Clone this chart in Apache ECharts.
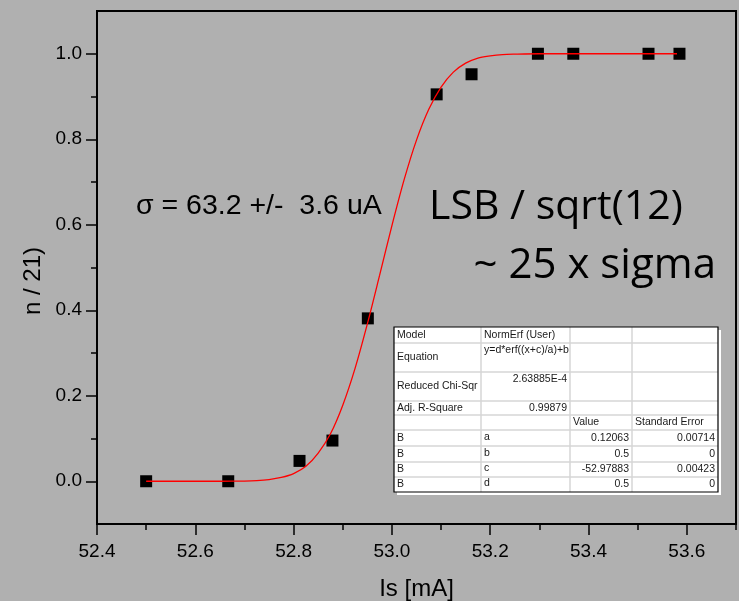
<!DOCTYPE html>
<html>
<head>
<meta charset="utf-8">
<script src="https://cdn.jsdelivr.net/npm/echarts@6/dist/echarts.min.js"></script>
<style>
html,body{margin:0;padding:0;background:#b0b0b0;}
#c{width:739px;height:601px;}
</style>
</head>
<body>
<div id="c"></div>
<script>
// measured points: current Is [mA] vs fraction n/21
var dataX = [52.5, 52.667, 52.812, 52.879, 52.951, 53.091, 53.162, 53.297, 53.369, 53.522, 53.585];
var dataY = [0.0, 0.0, 0.0476, 0.0952, 0.381, 0.905, 0.952, 1.0, 1.0, 1.0, 1.0];

// fitted (NormErf) curve
var fitX = [52.5, 52.55, 52.6, 52.65, 52.7, 52.725, 52.75, 52.775, 52.8, 52.825, 52.85, 52.875, 52.9, 52.925, 52.95, 52.975, 53.0, 53.025, 53.05, 53.075, 53.1, 53.125, 53.15, 53.175, 53.2, 53.225, 53.25, 53.3, 53.35, 53.4, 53.45, 53.5, 53.55, 53.58];
var fitY = [0.0, 0.0, 0.0, 0.0, 0.0005, 0.0015, 0.004, 0.009, 0.018, 0.035, 0.066, 0.111, 0.178, 0.264, 0.368, 0.482, 0.598, 0.706, 0.798, 0.870, 0.922, 0.957, 0.978, 0.990, 0.995, 0.998, 0.999, 1.0, 1.0, 1.0, 1.0, 1.0, 1.0, 1.0];

// axis ticks
var xMajorTicks = [52.4, 52.6, 52.8, 53.0, 53.2, 53.4, 53.6];
var xMinorTicks = [52.5, 52.7, 52.9, 53.1, 53.3, 53.5, 53.7];
var yMajorTicks = [0.0, 0.2, 0.4, 0.6, 0.8, 1.0];
var yMinorTicks = [0.1, 0.3, 0.5, 0.7, 0.9];

var xTitle = 'Is [mA]';
var yTitle = 'n / 21)';
var note1 = '\u03c3 = 63.2 +/-  3.6 uA';
var note2 = 'LSB / sqrt(12)';
var note3 = '~ 25 x sigma';

// fit result table
var tableRows = [
  ['Model', 'NormErf (User)', '', ''],
  ['Equation', 'y=d*erf((x+c)/a)+b', '', ''],
  ['Reduced Chi-Sqr', '2.63885E-4', '', ''],
  ['Adj. R-Square', '0.99879', '', ''],
  ['', '', 'Value', 'Standard Error'],
  ['B', 'a', '0.12063', '0.00714'],
  ['B', 'b', '0.5', '0'],
  ['B', 'c', '-52.97883', '0.00423'],
  ['B', 'd', '0.5', '0']
];

var chart = echarts.init(document.getElementById('c'), null, {renderer: 'canvas'});

var AX = '#000';
var FONT = '"Liberation Sans", Arial, sans-serif';

function pairs(xs, ys) { return xs.map(function (x, i) { return [x, ys[i]]; }); }

// table graphics
var colLines = [394, 481, 570, 632, 718];
var rowLines = [327, 343, 372, 401, 415, 430, 446, 462, 477, 492];
var g = [];
g.push({type: 'rect', shape: {x: colLines[0] + 3, y: rowLines[0] + 3, width: colLines[4] - colLines[0], height: rowLines[9] - rowLines[0]}, style: {fill: '#fff'}, z: 100});
g.push({type: 'rect', shape: {x: colLines[0], y: rowLines[0], width: colLines[4] - colLines[0], height: rowLines[9] - rowLines[0]}, style: {fill: '#fff'}, z: 101});
for (var i = 1; i < rowLines.length - 1; i++) {
  g.push({type: 'line', shape: {x1: colLines[0], y1: rowLines[i], x2: colLines[4], y2: rowLines[i]}, style: {stroke: '#d6d6d6', lineWidth: 1.5}, z: 102});
}
for (var j = 1; j < colLines.length - 1; j++) {
  g.push({type: 'line', shape: {x1: colLines[j], y1: rowLines[0], x2: colLines[j], y2: rowLines[9]}, style: {stroke: '#d6d6d6', lineWidth: 1.5}, z: 102});
}
g.push({type: 'rect', shape: {x: colLines[0], y: rowLines[0], width: colLines[4] - colLines[0], height: rowLines[9] - rowLines[0]}, style: {fill: 'none', stroke: '#000', lineWidth: 1.2}, z: 103});
tableRows.forEach(function (row, r) {
  var top = rowLines[r], bot = rowLines[r + 1];
  var tall = (bot - top) > 20;
  row.forEach(function (txt, c) {
    if (!txt) return;
    var numeric = !isNaN(Number(txt));
    var x = numeric ? colLines[c + 1] - 3 : colLines[c] + 3;
    var y, va;
    if (c === 0 || !tall) { y = (top + bot) / 2 + (c > 0 && r >= 5 && !numeric ? -1 : 0); va = 'middle'; }
    else { y = top + 2; va = 'top'; }
    g.push({type: 'text', x: x, y: y, z: 104, style: {text: txt, fill: '#1a1a1a', font: '10.5px ' + FONT, align: numeric ? 'right' : 'left', verticalAlign: va}});
  });
});

// annotations
g.push({type: 'text', x: 136, y: 206, z: 50, style: {text: note1, fill: '#000', font: '28.5px ' + FONT, align: 'left', verticalAlign: 'middle'}});
g.push({type: 'text', x: 429, y: 207, z: 50, style: {text: note2, fill: '#000', font: '41px "Open Sans", "Noto Sans", sans-serif', align: 'left', verticalAlign: 'middle'}});
g.push({type: 'text', x: 716, y: 266, z: 50, style: {text: note3, fill: '#000', font: '42px "Open Sans", "Noto Sans", sans-serif', align: 'right', verticalAlign: 'middle'}});
g.push({type: 'text', x: 33, y: 281, rotation: Math.PI / 2, z: 50, style: {text: yTitle, fill: '#000', font: '24px ' + FONT, align: 'center', verticalAlign: 'middle'}});

var option = {
  backgroundColor: '#b0b0b0',
  animation: false,
  grid: {left: 97, right: 3, top: 11, bottom: 77, show: true, borderColor: AX, borderWidth: 2, backgroundColor: 'transparent', containLabel: false, outerBoundsMode: 'none'},
  xAxis: [{
    type: 'value', min: 52.4, max: 53.7, interval: 0.2,
    axisLine: {onZero: false, lineStyle: {color: AX, width: 2}},
    axisTick: {show: true, length: 11, customValues: xMajorTicks, lineStyle: {color: AX, width: 1.5}},
    axisLabel: {color: '#000', fontSize: 19, fontFamily: FONT, margin: 18, customValues: xMajorTicks, formatter: function (v) { return v.toFixed(1); }},
    splitLine: {show: false},
    name: xTitle, nameLocation: 'middle', nameGap: 53,
    nameTextStyle: {color: '#000', fontSize: 24, fontFamily: FONT}
  }, {
    type: 'value', min: 52.4, max: 53.7, position: 'bottom',
    axisLine: {show: false, onZero: false},
    axisTick: {show: true, length: 6, customValues: xMinorTicks, lineStyle: {color: AX, width: 1.5}},
    axisLabel: {show: false},
    splitLine: {show: false}
  }],
  yAxis: [{
    type: 'value', min: -0.1, max: 1.1,
    axisLine: {onZero: false, lineStyle: {color: AX, width: 2}},
    axisTick: {show: true, length: 11, customValues: yMajorTicks, lineStyle: {color: AX, width: 1.5}},
    axisLabel: {color: '#000', fontSize: 19, fontFamily: FONT, margin: 15, customValues: yMajorTicks, formatter: function (v) { return v.toFixed(1); }},
    splitLine: {show: false}
  }, {
    type: 'value', min: -0.1, max: 1.1, position: 'left',
    axisLine: {show: false, onZero: false},
    axisTick: {show: true, length: 6, customValues: yMinorTicks, lineStyle: {color: AX, width: 1.5}},
    axisLabel: {show: false},
    splitLine: {show: false}
  }],
  series: [{
    type: 'scatter', xAxisIndex: 0, yAxisIndex: 0,
    data: pairs(dataX, dataY),
    symbol: 'rect', symbolSize: 12,
    itemStyle: {color: '#000', opacity: 1}, z: 3
  }, {
    type: 'line', xAxisIndex: 0, yAxisIndex: 0,
    data: pairs(fitX, fitY),
    showSymbol: false, smooth: 0.3,
    lineStyle: {color: '#ff0000', width: 1.3}, z: 4
  }],
  graphic: g
};
chart.setOption(option);
</script>
</body>
</html>
